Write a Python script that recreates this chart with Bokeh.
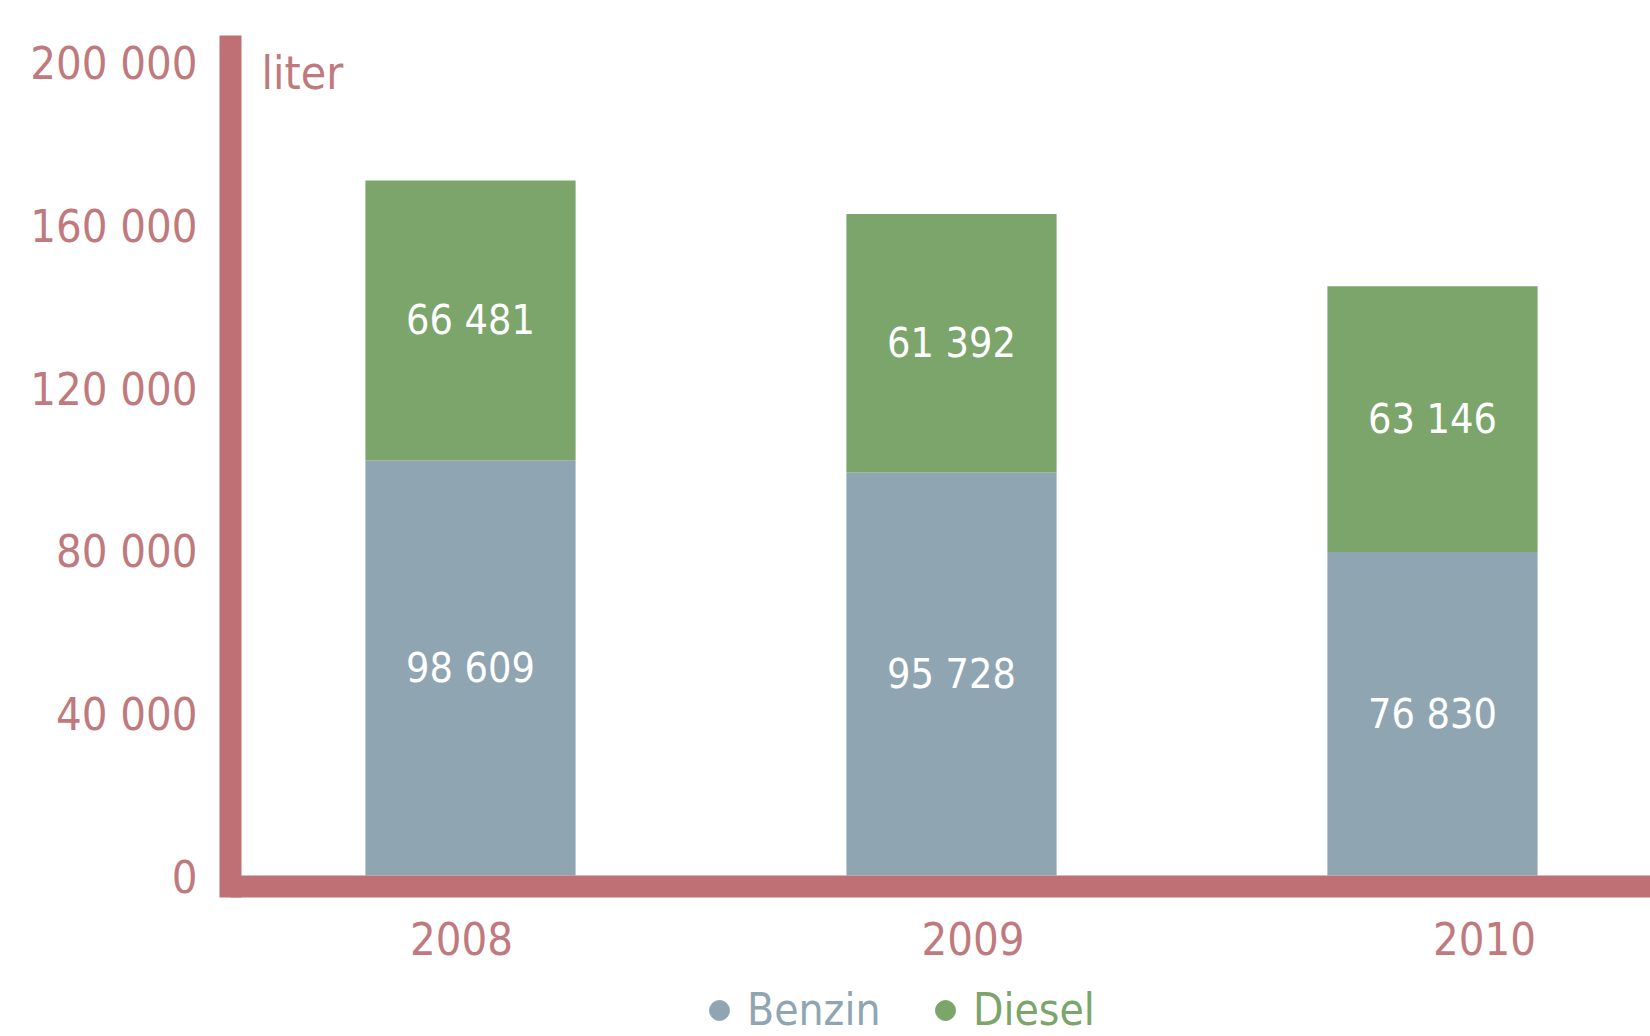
import subprocess
import numpy as np
from bokeh.plotting import figure
from bokeh.models import (Range1d, FixedTicker, Legend, LegendItem, Label,
                          ColumnDataSource, LinearAxis)
from bokeh.core.properties import value
from bokeh.embed import file_html
from bokeh.resources import INLINE

# ---------------- data ----------------
years = ["2008", "2009", "2010"]
series = ["Benzin", "Diesel"]
benzin = [98609, 95728, 76830]
diesel = [66481, 61392, 63146]
y_ticks = [0, 40000, 80000, 120000, 160000, 200000]
y_tick_labels = ["0", "40 000", "80 000", "120 000", "160 000", "200 000"]
unit_label = "liter"


# ---------------- font ----------------
def pick_font(cands):
    try:
        out = subprocess.run(["fc-list", ":", "family"], capture_output=True,
                             text=True, timeout=10).stdout
    except Exception:
        out = ""
    fams = set()
    for line in out.splitlines():
        for f in line.split(","):
            fams.add(f.strip())
    for c, s in cands:
        if c in fams:
            return c, s
    return cands[-1]


FONT, FS = pick_font([("Liberation Sans Narrow", 1.0),
                      ("DejaVu Sans Condensed", 0.82),
                      ("Roboto", 0.85)])


def fs(px):
    return f"{px * FS:.0f}px"


# ---------------- style ----------------
AX = "#bf7074"
LBL = "#c07a7e"
C_B = "#8fa6b2"
C_D = "#7ba56b"

W, H = 1650, 1036
TOP = 33            # frame top (figure px)
LEFT = 230          # frame left (figure px)
PX_PER_UNIT = 842 / 200000          # bar scale
y_end = 200000
y_start = y_end - (H - TOP) / PX_PER_UNIT
x_px = 481.0
x_start = -(470 - LEFT) / x_px
x_end = x_start + (W - LEFT) / x_px

# axis-label scales (the reference places its labels slightly apart from the bars)
LAB_PX = 814 / 200000
ly_start = -(H - 877) / LAB_PX
ly_end = (877 - TOP) / LAB_PX
lx_px = 511.5
lx_start = -(461 - LEFT) / lx_px
lx_end = lx_start + (W - LEFT) / lx_px

p = figure(width=W, height=H, output_backend="svg", toolbar_location=None,
           x_range=Range1d(x_start, x_end), y_range=Range1d(y_start, y_end),
           x_axis_location=None, y_axis_location=None,
           min_border_left=LEFT, min_border_top=TOP,
           min_border_right=0, min_border_bottom=0)
p.extra_y_ranges = {"lab": Range1d(ly_start, ly_end)}
p.extra_x_ranges = {"lab": Range1d(lx_start, lx_end)}
p.grid.visible = False
p.outline_line_color = None
p.background_fill_color = "white"
p.border_fill_color = "white"

xs = list(range(len(years)))
src = ColumnDataSource(dict(x=xs, Benzin=benzin, Diesel=diesel))
p.vbar_stack(series, x="x", width=0.437, source=src, color=[C_B, C_D],
             line_color=None)

# value labels
lab_x, lab_y, lab_t = [], [], []
for i in range(len(years)):
    lab_x += [i, i]
    lab_y += [benzin[i] / 2, benzin[i] + diesel[i] / 2]
    lab_t += [f"{benzin[i]:,}".replace(",", " "), f"{diesel[i]:,}".replace(",", " ")]
p.text(x=lab_x, y=lab_y, text=lab_t, text_color="white",
       text_font=value(FONT), text_font_size=fs(50),
       text_align="center", text_baseline="middle")

# y axis
yax = LinearAxis(y_range_name="lab", ticker=FixedTicker(ticks=y_ticks),
                 major_label_overrides={t: l for t, l in zip(y_ticks, y_tick_labels)})
yax.bounds = (-(897 - 877) / LAB_PX, (877 - 35) / LAB_PX)
yax.axis_line_width = 22
yax.axis_line_color = AX
yax.major_tick_line_color = None
yax.minor_tick_line_color = None
yax.major_label_standoff = 27
yax.major_label_text_font = FONT
yax.major_label_text_font_size = fs(55)
yax.major_label_text_color = LBL
p.add_layout(yax, "left")

# x axis (drawn on the baseline, labels below it)
line_off = 11 / PX_PER_UNIT
xax = LinearAxis(x_range_name="lab", fixed_location=-line_off,
                 ticker=FixedTicker(ticks=xs),
                 major_label_overrides={i: y for i, y in zip(xs, years)})
xax.axis_line_width = 22
xax.axis_line_color = AX
xax.major_tick_line_color = None
xax.minor_tick_line_color = None
xax.major_label_standoff = 29
xax.major_label_text_font = FONT
xax.major_label_text_font_size = fs(55)
xax.major_label_text_color = LBL
p.add_layout(xax, "below")

p.add_layout(Label(x=(261 - LEFT) / x_px + x_start, y=(875 - 72) / PX_PER_UNIT,
                   text=unit_label, text_font=FONT, text_font_size=fs(56),
                   text_color=LBL, text_baseline="alphabetic"))

# legend (marker-only helper renderers carrying no visible data)
rb = p.scatter(x=np.array([np.nan]), y=np.array([np.nan]), marker="circle",
               color=C_B, size=20)
rd = p.scatter(x=np.array([np.nan]), y=np.array([np.nan]), marker="circle",
               color=C_D, size=20)
for r, name, col, lx in [(rb, series[0], C_B, 464), (rd, series[1], C_D, 690)]:
    leg = Legend(items=[LegendItem(label=name, renderers=[r])], location=(lx, 1),
                 orientation="horizontal", label_text_color=col,
                 label_text_font=FONT, label_text_font_size=fs(54),
                 glyph_width=50, glyph_height=50, label_height=50,
                 label_standoff=3, padding=0, margin=0, spacing=0,
                 background_fill_alpha=0, border_line_color=None)
    p.add_layout(leg)

open("out.html", "w").write(file_html(p, INLINE))
